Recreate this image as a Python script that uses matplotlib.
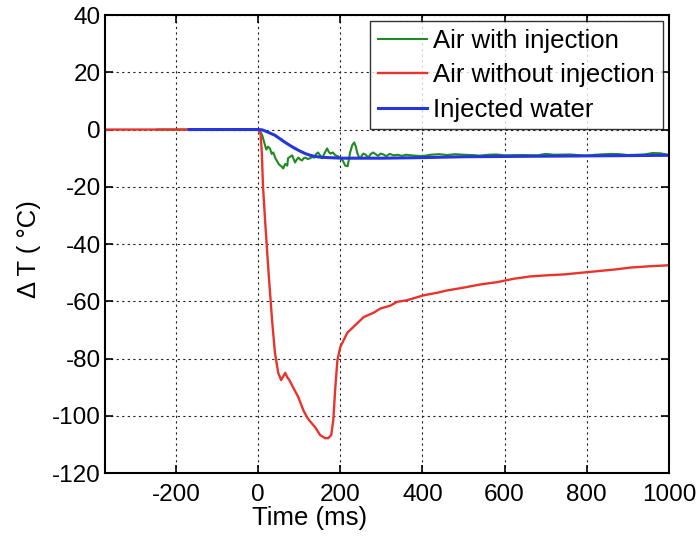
import matplotlib
matplotlib.use("Agg")
import matplotlib.pyplot as plt

plt.rcParams['font.family'] = ['Liberation Sans', 'DejaVu Sans']
plt.rcParams['axes.unicode_minus'] = False

# ---- data ----
t_green = [-245, 0, 5, 10, 14, 17, 20, 24, 29, 33, 37, 42, 46, 50, 54, 58, 61, 66, 71, 73,
           78, 83, 87, 90, 94, 98, 103, 107, 111, 115, 121, 127, 132, 137, 141, 146, 151,
           156, 162, 168, 172, 176, 182, 188, 194, 200, 206, 212, 218, 224, 229, 234, 238,
           241, 245, 249, 253, 256, 262, 268, 274, 280, 286, 292, 298, 305, 312, 320, 330,
           340, 350, 360, 380, 400, 420, 440, 460, 480, 500, 520, 540, 560, 580, 600, 640,
           680, 700, 720, 760, 800, 820, 860, 880, 900, 940, 960, 980, 1000]
v_green = [0, 0, -0.5, -2, -4, -5.6, -7, -6, -6.6, -8.5, -8, -10, -11, -12, -12.6, -13, -13.6,
           -12, -12.6, -10, -9.5, -9, -10.5, -11.5, -10.5, -9.8, -10.5, -10.8, -10, -9.8,
           -10.3, -10, -9.6, -9.8, -8.6, -8, -9, -10, -8.2, -6.6, -7.8, -8.4, -8, -9, -9.3,
           -10, -10.8, -12.6, -12.8, -8, -5.5, -4.5, -6, -8, -9.5, -10, -9, -8.4, -8.8, -9.8,
           -8.6, -8, -8.6, -9.2, -8.4, -8.7, -9.3, -8.5, -9, -8.8, -9.2, -8.8, -9.1, -9.3,
           -8.8, -8.6, -8.9, -8.6, -8.8, -8.9, -9.1, -8.8, -8.7, -9, -8.9, -9, -8.5, -8.8,
           -8.7, -9.2, -8.8, -8.5, -8.6, -8.9, -8.7, -8.2, -8.3, -8.9]

t_red = [-373, 0, 3, 6, 9, 12, 17, 25, 34, 41, 49, 56, 62, 66, 71, 76, 85, 98, 110, 119, 127,
         139, 151, 163, 171, 178, 183, 188, 193, 200, 217, 241, 257, 281, 298, 322, 338, 363,
         403, 436, 460, 501, 541, 582, 623, 663, 704, 745, 802, 867, 907, 948, 1000]
v_red = [0, 0, -0.5, -1.5, -8, -20, -31.7, -49, -66.6, -78, -85, -87.5, -86, -85, -86.5,
         -87.5, -90, -93.5, -98, -100.5, -102, -104, -106.7, -107.8, -107.8, -106.7, -101.5,
         -90, -80.6, -76, -71, -67.7, -65.5, -64, -62.5, -61.5, -60.2, -59.6, -57.9, -57,
         -56.2, -55.2, -54.1, -53.3, -52.1, -51.3, -50.9, -50.6, -49.8, -48.9, -48.2, -47.8,
         -47.4]

t_blue = [-168, 0, 10, 17, 30, 41, 55, 66, 78, 90, 103, 115, 127, 139, 155, 171, 205, 300,
          400, 500, 700, 1000]
v_blue = [0, 0, -0.1, -0.5, -1.3, -2, -3.4, -4.5, -5.6, -6.6, -7.6, -8.4, -9, -9.4, -9.7,
          -9.8, -10, -10, -9.8, -9.5, -9.3, -9]

labels = ["Air with injection", "Air without injection", "Injected water"]
x_ticks = [-200, 0, 200, 400, 600, 800, 1000]
y_ticks = [-120, -100, -80, -60, -40, -20, 0, 20, 40]

# ---- figure ----
fig = plt.figure(figsize=(6.99, 5.37), dpi=100)
ax = fig.add_axes([0.150, 0.119, 0.807, 0.853])

ax.plot(t_green, v_green, color='#1f8a1f', lw=1.5, label=labels[0])
ax.plot(t_red, v_red, color='#e8342c', lw=1.7, label=labels[1])
ax.plot(t_blue, v_blue, color='#2536e0', lw=2.2, label=labels[2])

ax.set_xlim(-373, 1000)
ax.set_ylim(-120, 40)
ax.set_xticks(x_ticks)
ax.set_yticks(y_ticks)
ax.grid(True, color='#222222', linestyle=(0, (2, 3)), linewidth=0.8)
ax.tick_params(direction='in', length=6, width=1.2, top=True, right=True,
               labelsize=17.5)
ax.tick_params(axis='x', pad=8)
ax.tick_params(axis='y', pad=3)
for s in ax.spines.values():
    s.set_linewidth(1.5)
    s.set_color('black')

ax.set_xlabel('Time (ms)', fontsize=18.5)
ax.xaxis.set_label_coords(0.363, -0.072)
ax.set_ylabel('Δ T ( °C)', fontsize=18.5)
ax.yaxis.set_label_coords(-0.114, 0.49)

leg = ax.legend(loc='upper right', fontsize=18.5, frameon=True, fancybox=False,
                handlelength=1.9, handletextpad=0.25, borderpad=0.3, labelspacing=0.4,
                borderaxespad=0.25)
leg.get_frame().set_edgecolor('black')
leg.get_frame().set_linewidth(1.0)

fig.savefig('out.png', dpi=100)
